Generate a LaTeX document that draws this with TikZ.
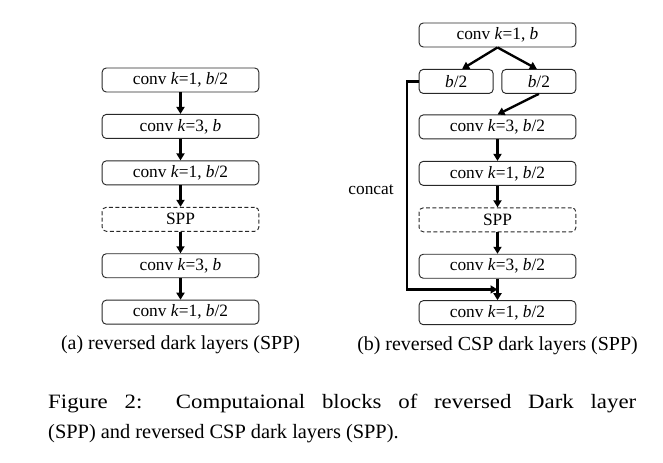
\documentclass[tikz,border=0pt]{standalone}
\usepackage{fontspec}
\setmainfont{Liberation Serif}
\usepackage{tikz}
\usetikzlibrary{positioning,arrows.meta,calc}
\definecolor{borde}{RGB}{40,40,40}

\begin{document}
\begin{tikzpicture}[
  capa/.style={draw=borde, line width=0.8pt, rounded corners=3.5pt,
               minimum width=4.7cm, minimum height=0.72cm, inner sep=0pt,
               align=center, font=\fontsize{14.8}{17}\selectfont},
  mitad/.style={capa, minimum width=2.22cm},
  punteada/.style={dash pattern=on 3.4pt off 2.1pt},
  flecha/.style={-{Triangle[length=2.1mm, width=2.4mm]}, line width=2pt},
  leyenda/.style={inner sep=0pt, font=\fontsize{17}{20}\selectfont},
  node distance=0.645cm]
  \useasboundingbox (0,0) rectangle (19.89,13.89);
  % (a) reversed dark layers
  \node[capa] (a1) at (5.415,11.49) {conv \textit{k}=1, \textit{b}/2};
  \node[capa, below=of a1] (a2) {conv \textit{k}=3, \textit{b}};
  \node[capa, below=of a2] (a3) {conv \textit{k}=1, \textit{b}/2};
  \node[capa, punteada, below=of a3] (a4) {SPP};
  \node[capa, below=of a4] (a5) {conv \textit{k}=3, \textit{b}};
  \node[capa, below=of a5] (a6) {conv \textit{k}=1, \textit{b}/2};
  \node[leyenda, below=0.33cm of a6] (capa) {(a) reversed dark layers (SPP)};
  \draw[flecha] (a1) -- (a2);
  \draw[flecha] (a2) -- (a3);
  \draw[flecha] (a3) -- (a4);
  \draw[flecha] (a4) -- (a5);
  \draw[flecha] (a5) -- (a6);
  % (b) reversed CSP dark layers
  \node[capa] (t1) at (14.925,12.84) {conv \textit{k}=1, \textit{b}};
  \node[mitad, below=of t1.south west, anchor=north west] (m1) {\textit{b}/2};
  \node[mitad, below=of t1.south east, anchor=north east] (m2) {\textit{b}/2};
  \node[capa, below=2.01cm of t1] (r1) {conv \textit{k}=3, \textit{b}/2};
  \node[capa, below=of r1] (r2) {conv \textit{k}=1, \textit{b}/2};
  \node[capa, punteada, below=of r2] (r3) {SPP};
  \node[capa, below=of r3] (r4) {conv \textit{k}=3, \textit{b}/2};
  \node[capa, below=of r4] (r5) {conv \textit{k}=1, \textit{b}/2};
  \node[leyenda, below=0.33cm of r5] (capb) {(b) reversed CSP dark layers (SPP)};
  \coordinate (junta) at ($(r4.south)!0.5!(r5.north)$);
  \node[leyenda, font=\fontsize{14.8}{17}\selectfont] (concat) at (11.13,8.19) {concat};
  \draw[flecha] (t1.south) -- ([xshift=0.18cm]m1.north);
  \draw[flecha] (t1.south) -- ([xshift=-0.06cm]m2.north);
  \draw[flecha] (m2.south) -- (r1.north);
  \draw[flecha] (r1) -- (r2);
  \draw[flecha] (r2) -- (r3);
  \draw[flecha] (r3) -- (r4);
  \draw[flecha] (r4) -- (r5);
  \draw[flecha] (m1.west) -- ++(-0.36,0) |- (junta);
  % figure caption
  \node[leyenda, anchor=north west, text width=17.64cm, align=justify,
        font=\fontsize{17.4}{25.6}\selectfont] (pie) at (1.44,2.07)
    {{\addfontfeature{FakeStretch=1.12}Figure 2:\ \ Computaional blocks of
     reversed Dark layer}\linebreak
     (SPP) and reversed CSP dark layers (SPP).};
\end{tikzpicture}
\end{document}
